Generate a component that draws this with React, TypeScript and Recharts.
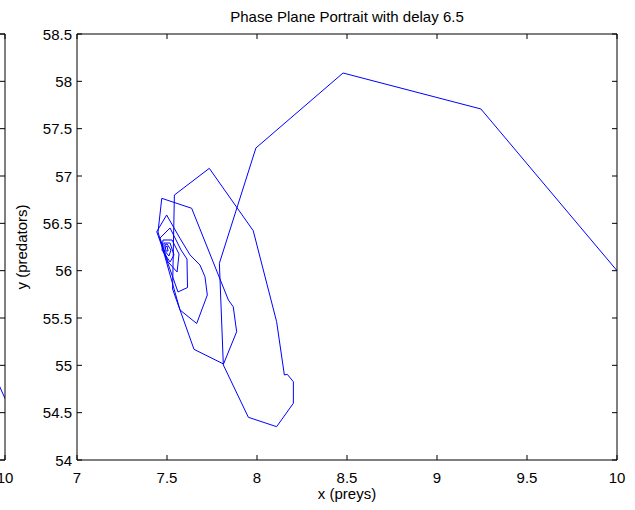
import { LineChart, Line, XAxis, YAxis } from 'recharts';

// phase portrait (x = preys, y = predators), in path order
const preyValues = [
  10.0, 9.244, 8.478, 7.994, 7.791, 7.813, 7.952, 8.109, 8.202, 8.202,
  8.168, 8.152, 8.109, 7.979, 7.735, 7.541, 7.531, 7.65, 7.814, 7.887,
  7.868, 7.841, 7.637, 7.471, 7.45, 7.572, 7.665, 7.724, 7.711, 7.683,
  7.628, 7.572, 7.498, 7.443, 7.561, 7.614, 7.611, 7.578, 7.517, 7.461,
  7.506, 7.556, 7.567, 7.528, 7.478, 7.472, 7.517, 7.539, 7.517, 7.483,
  7.483, 7.511, 7.522, 7.5, 7.489, 7.494, 7.506, 7.5, 7.494,
];
const predatorValues = [
  56.0, 57.708, 58.088, 57.296, 56.078, 55.004, 54.451, 54.352, 54.599, 54.827,
  54.905, 54.898, 55.461, 56.422, 57.081, 56.799, 55.806, 55.169, 55.014, 55.355,
  55.619, 55.69, 56.659, 56.764, 56.409, 55.585, 55.442, 55.743, 55.936, 56.06,
  56.166, 56.342, 56.588, 56.412, 55.775, 55.822, 56.123, 56.218, 56.451, 56.345,
  56.092, 55.986, 56.176, 56.324, 56.324, 56.218, 56.092, 56.166, 56.292, 56.292,
  56.218, 56.155, 56.218, 56.282, 56.272, 56.208, 56.208, 56.261, 56.25,
];

// the neighbouring subplot on the left, only its right edge shows
const sidePrey = [9.95, 10];
const sidePredator = [54.85, 54.65];
const sideLabels = [10];

const xTicks = [7, 7.5, 8, 8.5, 9, 9.5, 10];
const yTicks = [54, 54.5, 55, 55.5, 56, 56.5, 57, 57.5, 58, 58.5];

const trajectory = preyValues.map((x, i) => ({ x, y: predatorValues[i] }));
const sideTrajectory = sidePrey.map((x, i) => ({ x, y: sidePredator[i] }));

const FONT = '"Liberation Sans", Arial, Helvetica, sans-serif';
const TICK = 5;

// matlab look: tick marks point into the box, labels stay outside
function BottomTick(props: any) {
  const { x, y, payload, only } = props;
  const showLabel = !only || only.includes(payload.value);
  return (
    <g>
      <line x1={x} y1={y} x2={x} y2={y - TICK} stroke="#000" />
      {showLabel && (
        <text x={x} y={y + 17} textAnchor="middle" dominantBaseline="central" fontSize={15} fontFamily={FONT} fill="#000">
          {payload.value}
        </text>
      )}
    </g>
  );
}

function LeftTick(props: any) {
  const { x, y, payload } = props;
  return (
    <g>
      <line x1={x} y1={y} x2={x + TICK} y2={y} stroke="#000" />
      <text x={x - 5} y={y} textAnchor="end" dominantBaseline="central" fontSize={15} fontFamily={FONT} fill="#000">
        {payload.value}
      </text>
    </g>
  );
}

function TopTick(props: any) {
  const { x, y } = props;
  return <line x1={x} y1={y} x2={x} y2={y + TICK} stroke="#000" />;
}

function RightTick(props: any) {
  const { x, y } = props;
  return <line x1={x} y1={y} x2={x - TICK} y2={y} stroke="#000" />;
}

function renderFrame(isMain: boolean) {
  return [
    <XAxis
      key="bottom"
      dataKey="x"
      type="number"
      domain={[7, 10]}
      ticks={xTicks}
      interval={0}
      height={20}
      tickSize={0}
      tickMargin={0}
      tickLine={false}
      axisLine={{ stroke: '#000' }}
      tick={<BottomTick only={isMain ? null : sideLabels} />}
      allowDataOverflow
    />,
    <XAxis
      key="top"
      xAxisId="top"
      orientation="top"
      dataKey="x"
      type="number"
      domain={[7, 10]}
      ticks={xTicks}
      interval={0}
      height={10}
      tickSize={0}
      tickMargin={0}
      tickLine={false}
      axisLine={{ stroke: '#000' }}
      tick={<TopTick />}
      allowDataOverflow
    />,
    <YAxis
      key="left"
      type="number"
      domain={[54, 58.5]}
      ticks={yTicks}
      interval={0}
      width={40}
      tickSize={0}
      tickMargin={0}
      tickLine={false}
      axisLine={{ stroke: '#000' }}
      tick={isMain ? <LeftTick /> : false}
      allowDataOverflow
    />,
    <YAxis
      key="right"
      yAxisId="right"
      orientation="right"
      type="number"
      domain={[54, 58.5]}
      ticks={yTicks}
      interval={0}
      width={10}
      tickSize={0}
      tickMargin={0}
      tickLine={false}
      axisLine={{ stroke: '#000' }}
      tick={<RightTick />}
      allowDataOverflow
    />,
  ];
}

export default function App() {
  return (
    <div
      style={{
        position: 'absolute',
        left: 0,
        top: 0,
        width: 635,
        height: 510,
        overflow: 'hidden',
        background: '#fff',
        fontFamily: FONT,
        color: '#000',
      }}
    >
      <div style={{ position: 'absolute', left: -545, top: 0 }}>
        <LineChart width={570} height={510} data={sideTrajectory} margin={{ top: 24, right: 10, bottom: 30, left: 0 }}>
          {renderFrame(false)}
          <Line type="linear" dataKey="y" stroke="#0000ff" strokeWidth={1} dot={false} isAnimationActive={false} />
        </LineChart>
      </div>

      <div style={{ position: 'absolute', left: 0, top: 0 }}>
        <LineChart width={635} height={510} data={trajectory} margin={{ top: 24, right: 8, bottom: 30, left: 37 }}>
          {renderFrame(true)}
          <Line type="linear" dataKey="y" stroke="#0000ff" strokeWidth={1} dot={false} isAnimationActive={false} />
        </LineChart>
      </div>

      <div style={{ position: 'absolute', left: 77, width: 540, top: 8, textAlign: 'center', fontSize: 15, lineHeight: '18px' }}>
        Phase Plane Portrait with delay 6.5
      </div>
      <div style={{ position: 'absolute', left: 77, width: 540, top: 485, textAlign: 'center', fontSize: 15, lineHeight: '18px' }}>
        x (preys)
      </div>
      <div
        style={{
          position: 'absolute',
          left: 22,
          top: 247,
          transform: 'translate(-50%, -50%) rotate(-90deg)',
          whiteSpace: 'nowrap',
          fontSize: 15,
          lineHeight: '18px',
        }}
      >
        y (predators)
      </div>
    </div>
  );
}
